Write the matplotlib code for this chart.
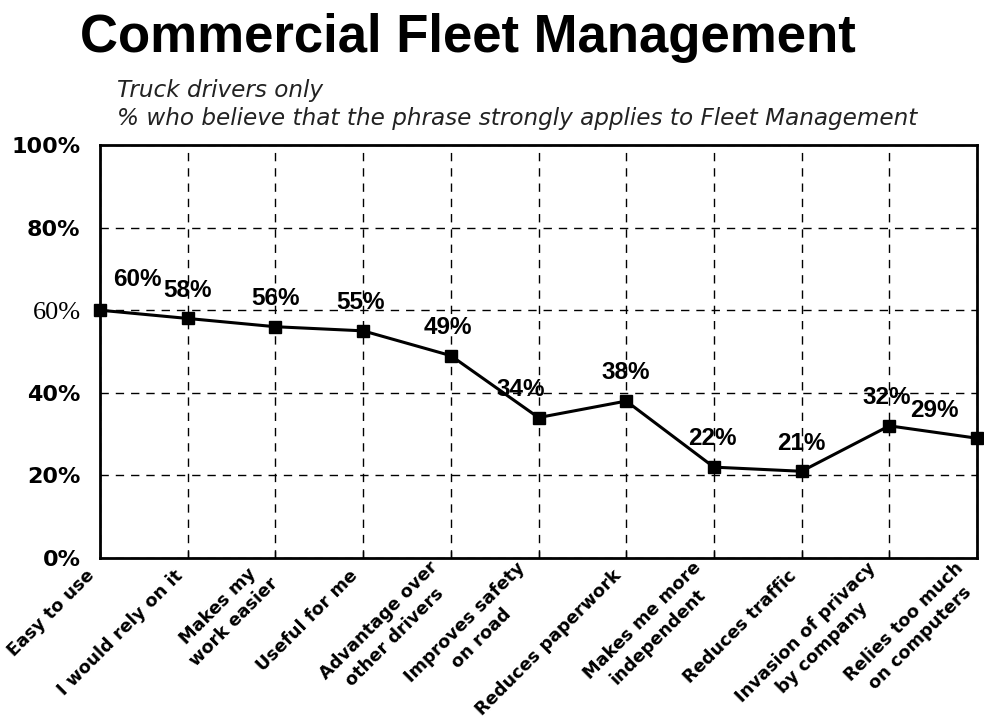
import matplotlib.pyplot as plt
import matplotlib.transforms as mtransforms

categories = ["Easy to use", "I would rely on it", "Makes my\nwork easier", "Useful for me",
              "Advantage over\nother drivers", "Improves safety\non road", "Reduces paperwork",
              "Makes me more\nindependent", "Reduces traffic", "Invasion of privacy\nby company",
              "Relies too much\non computers"]
values = [60, 58, 56, 55, 49, 34, 38, 22, 21, 32, 29]
y_ticks = [0, 20, 40, 60, 80, 100]

# label offsets (points) to match the original placement
label_dx = [27, 0, 0, -2, -2, -13, 0, -1, 0, -2, -31]
label_dy = [14, 12, 12, 12, 12, 12, 12, 12, 12, 12, 12]

plt.rcParams['font.family'] = ['DejaVu Sans']

fig = plt.figure(figsize=(9.84, 7.22), dpi=100)
ax = fig.add_axes([100/984, 1-558/722, 877/984, 413/722])

x = list(range(len(categories)))
ax.plot(x, values, color='black', lw=2.2, marker='s', markersize=8.5, zorder=3, clip_on=False)

for xi, v, dx, dy in zip(x, values, label_dx, label_dy):
    ax.annotate(f"{v}%", (xi, v), xytext=(dx, dy), textcoords='offset points',
                ha='center', va='bottom', fontsize=17.5, fontweight='bold',
                family='Liberation Sans')

ax.set_xlim(0, len(categories) - 1)
ax.set_ylim(0, 100)
ax.set_xticks(x)
ax.set_xticklabels([])
# category labels, shifted a little left of the ticks like the original
lbl_trans = ax.get_xaxis_transform() + mtransforms.ScaledTranslation(-8/100, -15/100, fig.dpi_scale_trans)
for xi, cat in zip(x, categories):
    ax.text(xi, 0, cat, transform=lbl_trans, rotation=45, ha='right', va='center',
            rotation_mode='anchor', fontsize=12.8, fontweight='bold',
            multialignment='center', linespacing=1.35, clip_on=False)

ax.set_yticks(y_ticks)
ax.set_yticklabels([f"{t}%" for t in y_ticks], fontsize=16, fontweight='bold')
for lbl in ax.get_yticklabels():
    if lbl.get_text() == "60%":
        lbl.set_fontweight('normal')
        lbl.set_family('Liberation Serif')
        lbl.set_fontsize(19)
ax.tick_params(axis='x', direction='in', length=5, width=1)
ax.tick_params(axis='y', length=0, pad=14)

ax.grid(True, color='black', linestyle=(0, (6, 5)), lw=1)
for s in ax.spines.values():
    s.set_linewidth(2)

fig.text(80/984, 1-38/722, "Commercial Fleet Management", fontsize=38, fontweight='bold',
         va='center', family='Liberation Sans')
fig.text(117/984, 1-91/722, "Truck drivers only", fontsize=16.7, style='italic',
         va='center', color='#222222')
fig.text(117/984, 1-119/722, "% who believe that the phrase strongly applies to Fleet Management",
         fontsize=16.7, style='italic', va='center', color='#222222')

fig.savefig("out.png", dpi=100)
